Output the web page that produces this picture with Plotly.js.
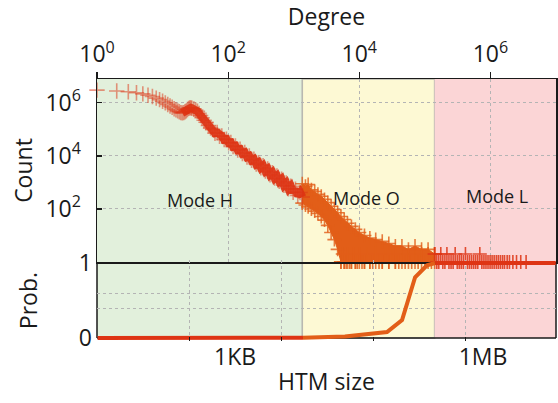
<!DOCTYPE html>
<html>
<head>
<meta charset="utf-8">
<script src="https://cdn.plot.ly/plotly-3.0.1.min.js"></script>
<style>
html, body { margin: 0; padding: 0; background: #ffffff; }
#chart { width: 558px; height: 403px; }
</style>
</head>
<body>
<div id="chart"></div>
<script>
// ---------- data ----------
// Mode regions (degree): left edge, H|O boundary, O|L boundary, right edge
const modeEdges = [1, 1350, 141000, 1e7];
const modeNames = ['Mode H', 'Mode O', 'Mode L'];

// Mode H: degree vs count
const hDeg = [1,2,3,4,5,6,7,8,9,10,11,12,13,14,15,16,17,18,19,20,21,22,23,24,25,26,27,28,30,32,34,36,38,40,43,46,50,54,58,63,68,74,80,87,94,102,110,119,129,140,152,165,179,194,210,228,247,268,290,315,341,370,401,435,472,512,555,602,653,708,768,833,903,980,1063,1153,1250,1350];
const hCount = [3.02e6,2.82e6,2.63e6,2.40e6,2.19e6,1.95e6,1.74e6,1.51e6,1.32e6,1.15e6,1.00e6,8.7e5,7.6e5,6.8e5,6.0e5,5.5e5,5.0e5,4.6e5,4.3e5,4.2e5,4.3e5,4.6e5,5.0e5,5.6e5,6.2e5,6.5e5,6.5e5,6.3e5,5.9e5,5.4e5,4.8e5,4.0e5,3.3e5,2.75e5,2.2e5,1.86e5,1.41e5,1.12e5,9.8e4,7.2e4,7.6e4,5.5e4,5.6e4,4.1e4,4.3e4,3.1e4,3.2e4,2.24e4,2.4e4,1.66e4,1.78e4,1.23e4,1.35e4,9100,10000,6800,7600,4900,5600,3600,4300,2700,3200,1950,2350,1450,1740,1100,1320,780,950,575,720,425,560,325,417,282];

// Mode O: spread band (upper / lower envelope of counts)
const oDeg = [1350,1510,1660,1860,2090,2340,2630,2950,3310,3720,4170,4680,5250,5890,6610,7590,8710,10000,12000,14500,17800,22400,28200,35500,44700,56200,70800,89100,112000,141000];
const oUpper = [890,720,830,525,457,355,302,229,174,126,95,72,52,40,29,22,17,13,10,8,7,6,5,4,4,3,4,3,3,2];
const oLower = [166,141,120,100,83,68,52,38,24,13,7,3,1,1,1,1,1,1,1,1,1,1,1,1,1,1,1,1,1,1];
// Mode O: low-count row
const oRowDeg = [5250,5600,5890,6300,6610,7100,7590,8100,8710,9300,10000,11000,12000,13200,14500,16000,17800,20000,22400,25000,28200,31600,35500,40000,44700,50000,56200,63000,70800,79000,89100,100000,112000,126000,141000];
const oRowCount = [1,2,1,1,2,1,1,2,1,1,2,1,1,2,1,1,2,1,1,2,1,2,1,1,2,1,2,1,2,1,2,1,2,1,2];

// Mode L: degree vs count
const lDeg = [141000,152000,163000,175000,188000,202000,217000,233000,251000,270000,290000,312000,335000,360000,387000,416000,447000,480000,516000,555000,596000,641000,689000,740000,796000,855000,919000,988000,1060000,1140000,1230000,1320000,1420000,1530000,1640000,1800000,1950000,2200000,2500000,2900000,3500000];
const lCount = [2,1,1,2,1,1,2,1,1,1,2,1,1,1,1,2,1,1,1,1,1,1,2,1,1,1,1,1,1,1,1,1,1,1,1,1,1,1,1,1,1];

// Bottom panel: probability vs HTM size (bytes), per mode
const pBytesH = [22, 300, 2000, 6840];
const pProbH  = [0, 0, 0, 0.003];
const pBytesO = [6840, 22100, 71600, 109000, 157000, 219000, 274000];
const pProbO  = [0.003, 0.02, 0.08, 0.24, 0.81, 0.97, 1.0];
const pBytesL = [274000, 1000000, 8000000];
const pProbL  = [1, 1, 1];

// ticks
const degTickVals = [1, 100, 1e4, 1e6];
const degTickText = ['10<sup>0</sup>', '10<sup>2</sup>', '10<sup>4</sup>', '10<sup>6</sup>'];
const cntTickVals = [100, 1e4, 1e6];
const cntTickText = ['10<sup>2</sup>', '10<sup>4</sup>', '10<sup>6</sup>'];
const sizeTickVals = [1024, 1048576];
const sizeTickText = ['1KB', '1MB'];
const sizeGridVals = [283, 3707, 48420, 634000];
const probTickVals = [0, 1];
const probTickText = ['0', '1'];
const probGridVals = [0.4, 0.6];

// ---------- styling ----------
const RED = '#de3414';
const ORANGE = '#e25e18';
const FONT = 'Open Sans, Noto Sans, sans-serif';
const GRID = '#b4b4b4';
const FRAME = '#1a1a1a';
const regionFill = ['#e2f0dc', '#fdf9d4', '#fbd5d6'];

const cross = (color, op, size) => ({symbol: 'cross-thin', size: size || 10, opacity: op, line: {color: color, width: 1.6}});
const denseStart = hDeg.indexOf(20);

const traces = [
  // Mode O band
  {x: oDeg, y: oLower, xaxis: 'x', yaxis: 'y', mode: 'lines', line: {color: ORANGE, width: 1}, hoverinfo: 'skip', showlegend: false},
  {x: oDeg, y: oUpper, xaxis: 'x', yaxis: 'y', mode: 'lines', fill: 'tonexty', fillcolor: ORANGE, line: {color: ORANGE, width: 1}, hoverinfo: 'skip', showlegend: false},
  {x: oDeg, y: oUpper, xaxis: 'x', yaxis: 'y', mode: 'markers', marker: cross(ORANGE, 0.8), cliponaxis: false, showlegend: false},
  {x: oDeg, y: oLower, xaxis: 'x', yaxis: 'y', mode: 'markers', marker: cross(ORANGE, 0.8), cliponaxis: false, showlegend: false},
  {x: oRowDeg, y: oRowCount, xaxis: 'x', yaxis: 'y', mode: 'markers', marker: cross(ORANGE, 0.85), cliponaxis: false, showlegend: false},
  // Mode H: dense band body
  {x: hDeg.slice(denseStart), y: hCount.slice(denseStart), xaxis: 'x', yaxis: 'y', mode: 'lines', line: {color: RED, width: 8}, opacity: 0.9, hoverinfo: 'skip', showlegend: false},
  // Mode H markers
  {x: hDeg, y: hCount, xaxis: 'x', yaxis: 'y', mode: 'markers', marker: cross(RED, 0.5, 11), cliponaxis: false, showlegend: false},
  // Mode L
  {x: lDeg, y: lCount, xaxis: 'x', yaxis: 'y', mode: 'markers', marker: cross(RED, 0.85), cliponaxis: false, showlegend: false},
  // probability curve
  {x: pBytesH, y: pProbH, xaxis: 'x2', yaxis: 'y2', mode: 'lines', line: {color: RED, width: 4}, showlegend: false},
  {x: pBytesO, y: pProbO, xaxis: 'x2', yaxis: 'y2', mode: 'lines', line: {color: ORANGE, width: 4}, showlegend: false},
  {x: pBytesL, y: pProbL, xaxis: 'x2', yaxis: 'y2', mode: 'lines', line: {color: RED, width: 4}, showlegend: false}
];

const shapes = [];
for (let i = 0; i < 3; i++) {
  shapes.push({
    type: 'rect', layer: 'below', xref: 'x', yref: 'paper',
    x0: modeEdges[i], x1: modeEdges[i + 1],
    y0: 0.0115, y1: 1,
    fillcolor: regionFill[i],
    line: i === 1 ? {color: '#b8b8b0', width: 1.6} : {width: 0}
  });
}
// bottom panel frame
shapes.push({type: 'line', layer: 'below', xref: 'paper', yref: 'y2', x0: 0, x1: 1, y0: 0, y1: 0, line: {color: FRAME, width: 1.5}});
shapes.push({type: 'line', layer: 'below', xref: 'paper', yref: 'y2', x0: 0, x1: 0, y0: 0, y1: 1, line: {color: FRAME, width: 1.5}});
shapes.push({type: 'line', layer: 'below', xref: 'paper', yref: 'y2', x0: 1, x1: 1, y0: 0, y1: 1, line: {color: FRAME, width: 1.5}});

const annX = [0.2244, 0.588, 0.871];
const annY = [0.538, 0.546, 0.553];
const annotations = modeNames.map((t, i) => ({
  text: t, xref: 'paper', yref: 'paper', x: annX[i], y: annY[i],
  showarrow: false, xanchor: 'center', yanchor: 'middle',
  font: {family: FONT, size: 18, color: '#1a1a1a'}
}));

const layout = {
  width: 558, height: 403,
  margin: {l: 97, r: 2, t: 79, b: 62},
  paper_bgcolor: '#ffffff', plot_bgcolor: 'rgba(0,0,0,0)',
  font: {family: FONT, size: 23, color: '#1a1a1a'},
  showlegend: false,
  xaxis: {
    type: 'log', range: [0, 7], side: 'top', anchor: 'y',
    tickvals: degTickVals, ticktext: degTickText,
    ticks: 'outside', ticklen: 6, tickwidth: 1.2, tickcolor: FRAME,
    showline: true, mirror: true, linecolor: FRAME, linewidth: 1.5,
    showgrid: true, gridcolor: GRID, griddash: 'dot', gridwidth: 1,
    zeroline: false,
    title: {text: 'Degree', font: {size: 23}, standoff: 6}
  },
  yaxis: {
    type: 'log', range: [0, 6.9], domain: [0.3015, 1], anchor: 'x',
    tickvals: cntTickVals, ticktext: cntTickText,
    ticks: 'inside', ticklen: 5, tickwidth: 1.2, tickcolor: FRAME,
    ticklabelstandoff: 10,
    showline: true, mirror: true, linecolor: FRAME, linewidth: 1.5,
    showgrid: true, gridcolor: GRID, griddash: 'dot', gridwidth: 1,
    zeroline: false,
    title: {text: 'Count', font: {size: 23}, standoff: 6}
  },
  xaxis2: {
    type: 'log', range: [1.335, 6.906], anchor: 'y2',
    tickvals: sizeTickVals, ticktext: sizeTickText,
    ticks: '', showline: false, showgrid: false, zeroline: false,
    minor: {tickmode: 'array', tickvals: sizeGridVals, showgrid: true, gridcolor: GRID, griddash: 'dot', gridwidth: 1, ticks: 'inside', ticklen: 4, tickcolor: FRAME},
    title: {text: 'HTM size', font: {size: 23}, standoff: 2}
  },
  yaxis2: {
    range: [-0.04, 1.04], domain: [0, 0.309], anchor: 'x2',
    tickvals: probTickVals, ticktext: probTickText,
    ticks: '', showline: false, showgrid: false, zeroline: false,
    ticklabelstandoff: 4,
    minor: {tickmode: 'array', tickvals: probGridVals, showgrid: true, gridcolor: GRID, griddash: 'dot', gridwidth: 1, ticks: ''},
    title: {text: 'Prob.', font: {size: 23}, standoff: 34}
  },
  shapes: shapes,
  annotations: annotations
};

Plotly.newPlot('chart', traces, layout, {displayModeBar: false, staticPlot: true});
</script>
</body>
</html>
